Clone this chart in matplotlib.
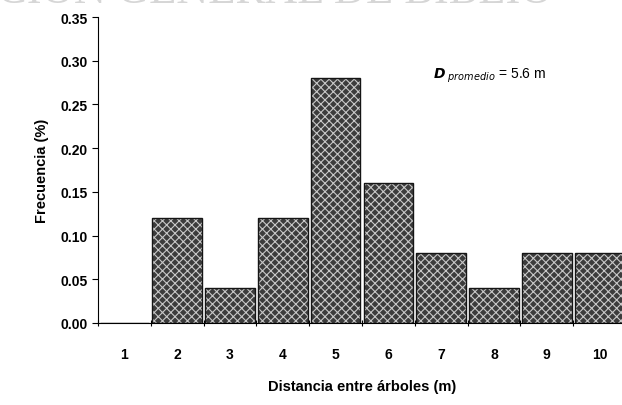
import numpy as np
import matplotlib.pyplot as plt

plt.rcParams["font.family"] = ["Liberation Sans", "DejaVu Sans"]
plt.rcParams["hatch.color"] = "#c8c8c8"
plt.rcParams["hatch.linewidth"] = 0.8

distancia = [1, 2, 3, 4, 5, 6, 7, 8, 9, 10]
frecuencia = [0.0, 0.12, 0.04, 0.12, 0.28, 0.16, 0.08, 0.04, 0.08, 0.08]
yticks = [0.00, 0.05, 0.10, 0.15, 0.20, 0.25, 0.30, 0.35]

fig = plt.figure(figsize=(6.22, 4.06), dpi=100)
ax = fig.add_axes([98 / 622, 82 / 406, 528 / 622, 306 / 406])

# stippled fill, then dark outline
ax.bar(distancia, frecuencia, width=0.94, color="#3c3c3c", hatch="xxxx",
       linewidth=0)
ax.bar(distancia, frecuencia, width=0.94, fill=False, edgecolor="#151515",
       linewidth=1.0)

ax.set_xlim(0.5, 10.5)
ax.set_ylim(0, 0.35)
ax.set_yticks(yticks)
ax.set_yticklabels([f"{v:.2f}" for v in yticks], fontsize=10, fontweight="bold")

edges = np.arange(0.5, 11.0, 1.0)
ax.set_xticks(edges)
ax.set_xticklabels([])
ax.set_xticks(distancia, minor=True)
ax.set_xticklabels([str(d) for d in distancia], minor=True, fontsize=10,
                   fontweight="bold")
ax.tick_params(axis="x", which="minor", length=0, pad=17)
ax.tick_params(axis="x", which="major", direction="inout", length=5)
ax.tick_params(axis="y", direction="out", length=4)

for s in ["top", "right"]:
    ax.spines[s].set_visible(False)

ax.set_xlabel("Distancia entre árboles (m)", fontsize=10.5, fontweight="bold",
              labelpad=13)
ax.set_ylabel("Frecuencia (%)", fontsize=10.5, fontweight="bold", labelpad=8)

ax.text(6.85, 0.284, r"$\mathbfit{D}_{\ \it{promedio}}$ = 5.6 m", fontsize=10,
        va="center")

# faint watermark at the top of the scan
fig.text(-0.005, 1.02, "CION GENERAL DE BIBLIO", fontsize=32,
         family="Liberation Serif", color="#d6d6d6", va="center", ha="left",
         zorder=0)

fig.savefig("out.png", dpi=100)
